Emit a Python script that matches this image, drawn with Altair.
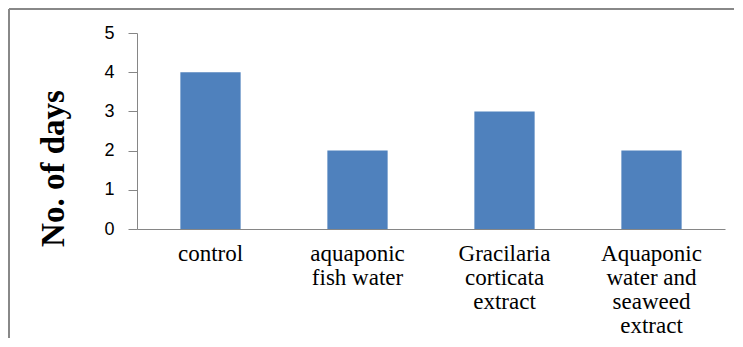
import altair as alt
import pandas as pd

categories = ["control", "aquaponic\nfish water", "Gracilaria\ncorticata\nextract",
              "Aquaponic\nwater and\nseaweed\nextract"]
values = [4, 2, 3, 2]
y_ticks = [0, 1, 2, 3, 4, 5]

df = pd.DataFrame({"cat": categories, "days": values})
frame_df = pd.DataFrame({"k": [0]})

bars = alt.Chart(df).mark_bar(color="#4f81bd").encode(
    x=alt.X("cat:N", sort=None, title=None,
            scale=alt.Scale(paddingInner=0.59, paddingOuter=0.295),
            axis=alt.Axis(labelAngle=0, ticks=False, labelBaseline="top",
                          labelExpr="split(datum.label, '\\n')")),
    y=alt.Y("days:Q", title="No. of days",
            scale=alt.Scale(domain=[0, 5]),
            axis=alt.Axis(values=y_ticks, grid=False, titleAngle=270, titleBaseline="bottom",
                          titleX=-67, titleY=135, titleAlign="center",
                          labelFontSize=18, labelFont="Liberation Sans")),
)

frame_top = alt.Chart(frame_df).mark_rule(color="#888888", strokeWidth=2).encode(
    x=alt.value(-128), x2=alt.value(597), y=alt.value(-24))
frame_left = alt.Chart(frame_df).mark_rule(color="#888888", strokeWidth=2).encode(
    x=alt.value(-128), y=alt.value(-24), y2=alt.value(305))

chart = alt.layer(bars, frame_top, frame_left).properties(
    width=588, height=196, padding=0
).configure_view(strokeWidth=0).configure_axisX(
    domainColor="#868686", domainWidth=1,
    labelFont="Liberation Serif", labelFontSize=23, labelColor="black",
    labelLineHeight=24, labelPadding=13,
).configure_axisY(
    domainColor="#868686", tickColor="#868686", tickSize=9,
    labelFont="Liberation Sans", labelFontSize=18, labelColor="black", labelPadding=14,
    titleFont="Liberation Serif", titleFontSize=33, titleFontWeight="bold", titleColor="black",
)

chart.save("out.html", embed_options={"renderer": "svg", "actions": False})
